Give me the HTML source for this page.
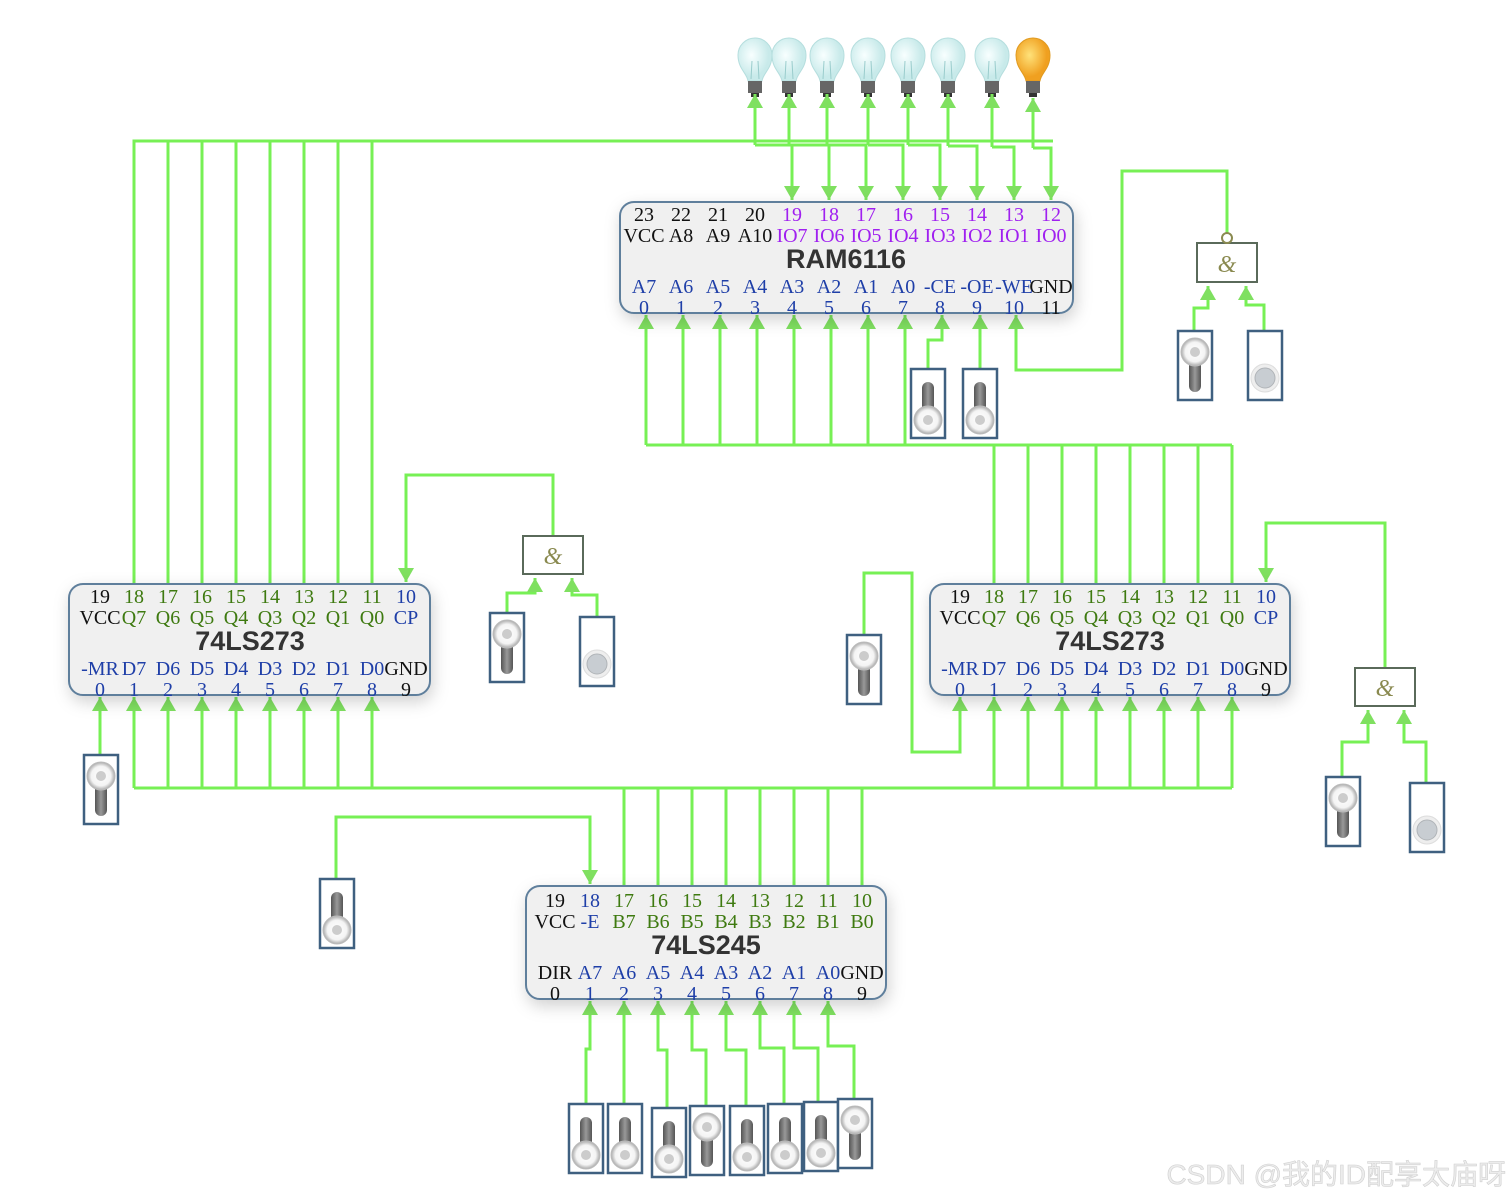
<!DOCTYPE html>
<html><head><meta charset="utf-8"><style>
html,body{margin:0;padding:0;background:#fff}
svg{display:block}
</style></head><body>
<svg width="1510" height="1200" viewBox="0 0 1510 1200" xmlns="http://www.w3.org/2000/svg">
<defs>
<marker id="a" markerUnits="userSpaceOnUse" markerWidth="18" markerHeight="18" refX="14" refY="8" orient="auto">
<path d="M0,0 L14,8 L0,16 z" fill="#7fe060"/>
</marker>
<filter id="sh" x="-10%" y="-20%" width="125%" height="150%">
<feDropShadow dx="2" dy="6" stdDeviation="8" flood-color="#000" flood-opacity="0.18"/>
</filter>
<linearGradient id="stem" x1="0" x2="1"><stop offset="0" stop-color="#555"/><stop offset="0.5" stop-color="#999"/><stop offset="1" stop-color="#555"/></linearGradient>
<radialGradient id="knob"><stop offset="0" stop-color="#fff"/><stop offset="0.7" stop-color="#f4f4f4"/><stop offset="1" stop-color="#aaa"/></radialGradient>
<radialGradient id="glass" cx="0.4" cy="0.4"><stop offset="0" stop-color="#f8ffff"/><stop offset="1" stop-color="#c8eaea"/></radialGradient>
<radialGradient id="glassOn" cx="0.4" cy="0.4"><stop offset="0" stop-color="#ffe27a"/><stop offset="1" stop-color="#f0a020"/></radialGradient>
<g id="sd"><rect x="1" y="1" width="34" height="69" fill="#fff" stroke="#3f6080" stroke-width="2.5"/><rect x="12" y="14" width="12" height="34" rx="6" fill="url(#stem)"/><circle cx="18" cy="52" r="14" fill="url(#knob)" stroke="#bbb"/><circle cx="18" cy="52" r="5" fill="#ccc"/></g>
<g id="su"><rect x="1" y="1" width="34" height="69" fill="#fff" stroke="#3f6080" stroke-width="2.5"/><rect x="12" y="26" width="12" height="36" rx="6" fill="url(#stem)"/><circle cx="18" cy="22" r="14" fill="url(#knob)" stroke="#bbb"/><circle cx="18" cy="22" r="5" fill="#ccc"/></g>
<g id="bt"><rect x="1" y="1" width="34" height="69" fill="#fff" stroke="#3f6080" stroke-width="2.5"/><circle cx="18" cy="48" r="14" fill="#eee" stroke="#ddd"/><circle cx="18" cy="48" r="10" fill="#c8cdd2" stroke="#b0b4b8"/></g>
<g id="bulb"><path d="M-7,76 C-8,68 -17,64 -17,50 A17,17 0 1 1 17,50 C17,64 8,68 7,76 Z" fill="url(#glass)" stroke="#b5dede"/><path d="M-4,74 L-3,56 M4,74 L3,56" stroke="#9cc" stroke-width="1" fill="none"/><rect x="-7" y="76" width="14" height="12" fill="#666"/><rect x="-4" y="88" width="8" height="4" fill="#333"/></g>
<g id="bulbon"><path d="M-7,76 C-8,68 -17,64 -17,50 A17,17 0 1 1 17,50 C17,64 8,68 7,76 Z" fill="url(#glassOn)" stroke="#e09a20"/><rect x="-7" y="76" width="14" height="12" fill="#666"/><rect x="-4" y="88" width="8" height="4" fill="#333"/></g>
</defs>

<use href="#bulb" x="755" y="5"/><use href="#bulb" x="789" y="5"/><use href="#bulb" x="827" y="5"/><use href="#bulb" x="868" y="5"/><use href="#bulb" x="908" y="5"/><use href="#bulb" x="948" y="5"/><use href="#bulb" x="992" y="5"/><use href="#bulbon" x="1033" y="5"/>

<g stroke="#77f055" stroke-width="3" fill="none">
<path d="M134,584 V141 H1053"/>
<path d="M168,584 V141 M202,584 V141 M236,584 V141 M270,584 V141 M304,584 V141 M338,584 V141 M372,584 V141"/>
<path d="M755,145 V94" marker-end="url(#a)"/><path d="M755,145 H792 V200" marker-end="url(#a)"/>
<path d="M789,145 V94" marker-end="url(#a)"/><path d="M789,145 H829 V200" marker-end="url(#a)"/>
<path d="M827,145 V94" marker-end="url(#a)"/><path d="M827,145 H866 V200" marker-end="url(#a)"/>
<path d="M868,145 V94" marker-end="url(#a)"/><path d="M868,145 H903 V200" marker-end="url(#a)"/>
<path d="M908,145 V94" marker-end="url(#a)"/><path d="M908,145 H940 V200" marker-end="url(#a)"/>
<path d="M948,146 V94" marker-end="url(#a)"/><path d="M948,146 H977 V200" marker-end="url(#a)"/>
<path d="M992,147 V94" marker-end="url(#a)"/><path d="M992,147 H1014 V200" marker-end="url(#a)"/>
<path d="M1033,148 V98" marker-end="url(#a)"/><path d="M1033,148 H1051 V200" marker-end="url(#a)"/>
<path d="M646,445 H1232"/>
<path d="M646,445 V315" marker-end="url(#a)"/><path d="M683,445 V315" marker-end="url(#a)"/><path d="M720,445 V315" marker-end="url(#a)"/><path d="M757,445 V315" marker-end="url(#a)"/><path d="M794,445 V315" marker-end="url(#a)"/><path d="M831,445 V315" marker-end="url(#a)"/><path d="M868,445 V315" marker-end="url(#a)"/><path d="M905,445 V315" marker-end="url(#a)"/>
<path d="M994,584 V445 M1028,584 V445 M1062,584 V445 M1096,584 V445 M1130,584 V445 M1164,584 V445 M1198,584 V445 M1232,584 V445"/>
<path d="M928,368 V340 H942 V315" marker-end="url(#a)"/>
<path d="M980,368 V315" marker-end="url(#a)"/>
<path d="M1227,236 V171 H1122 V370 H1016 V315" marker-end="url(#a)"/>
<path d="M1194,330 V308 H1208 V286" marker-end="url(#a)"/>
<path d="M1264,330 V305 H1246 V286" marker-end="url(#a)"/>
<path d="M553,536 V475 H406 V582" marker-end="url(#a)"/>
<path d="M507,612 V593 H535 V578" marker-end="url(#a)"/>
<path d="M597,616 V595 H572 V578" marker-end="url(#a)"/>
<path d="M1385,668 V523 H1266 V582" marker-end="url(#a)"/>
<path d="M1342,776 V742 H1368 V710" marker-end="url(#a)"/>
<path d="M1426,782 V742 H1404 V710" marker-end="url(#a)"/>
<path d="M100,754 V697" marker-end="url(#a)"/>
<path d="M864,634 V573 H912 V752 H960 V697" marker-end="url(#a)"/>
<path d="M134,788 H1232"/>
<path d="M134,788 V697" marker-end="url(#a)"/><path d="M168,788 V697" marker-end="url(#a)"/><path d="M202,788 V697" marker-end="url(#a)"/><path d="M236,788 V697" marker-end="url(#a)"/><path d="M270,788 V697" marker-end="url(#a)"/><path d="M304,788 V697" marker-end="url(#a)"/><path d="M338,788 V697" marker-end="url(#a)"/><path d="M372,788 V697" marker-end="url(#a)"/>
<path d="M994,788 V697" marker-end="url(#a)"/><path d="M1028,788 V697" marker-end="url(#a)"/><path d="M1062,788 V697" marker-end="url(#a)"/><path d="M1096,788 V697" marker-end="url(#a)"/><path d="M1130,788 V697" marker-end="url(#a)"/><path d="M1164,788 V697" marker-end="url(#a)"/><path d="M1198,788 V697" marker-end="url(#a)"/><path d="M1232,788 V697" marker-end="url(#a)"/>
<path d="M624,788 V886 M658,788 V886 M692,788 V886 M726,788 V886 M760,788 V886 M794,788 V886 M828,788 V886 M862,788 V886"/>
<path d="M336,878 V817 H590 V884" marker-end="url(#a)"/>
<path d="M586,1103 V1049 H590 V1001" marker-end="url(#a)"/>
<path d="M624,1103 V1001" marker-end="url(#a)"/>
<path d="M667,1107 V1050 H658 V1001" marker-end="url(#a)"/>
<path d="M706,1105 V1050 H692 V1001" marker-end="url(#a)"/>
<path d="M746,1105 V1050 H726 V1001" marker-end="url(#a)"/>
<path d="M784,1103 V1048 H760 V1001" marker-end="url(#a)"/>
<path d="M818,1101 V1048 H794 V1001" marker-end="url(#a)"/>
<path d="M854,1098 V1046 H828 V1001" marker-end="url(#a)"/>
</g>

<g font-family="Liberation Serif, serif" font-size="24" font-style="italic" fill="#8a8a50" text-anchor="middle">
<rect x="1197" y="243" width="60" height="39" fill="#fff" stroke="#5a6a5a" stroke-width="2"/><circle cx="1227" cy="238" r="5" fill="#fff" stroke="#8a8a50" stroke-width="2"/><text x="1227" y="272">&amp;</text>
<rect x="523" y="536" width="60" height="38" fill="#fff" stroke="#5a6a5a" stroke-width="2"/><text x="553" y="564">&amp;</text>
<rect x="1355" y="668" width="60" height="38" fill="#fff" stroke="#5a6a5a" stroke-width="2"/><text x="1385" y="696">&amp;</text>
</g>

<use href="#sd" x="910" y="368"/><use href="#sd" x="962" y="368"/>
<use href="#su" x="1177" y="330"/><use href="#bt" x="1247" y="330"/>
<use href="#su" x="489" y="612"/><use href="#bt" x="579" y="616"/>
<use href="#su" x="846" y="634"/>
<use href="#su" x="1325" y="776"/><use href="#bt" x="1409" y="782"/>
<use href="#su" x="83" y="754"/>
<use href="#sd" x="319" y="878"/>
<use href="#sd" x="568" y="1103"/><use href="#sd" x="607" y="1103"/><use href="#sd" x="651" y="1107"/><use href="#su" x="689" y="1105"/><use href="#sd" x="729" y="1105"/><use href="#sd" x="767" y="1103"/><use href="#sd" x="803" y="1101"/><use href="#su" x="837" y="1098"/>

<rect x="620" y="202" width="453" height="111" rx="14" fill="#f0f0f0" stroke="#5f7f9c" stroke-width="2" filter="url(#sh)"/>
<rect x="69" y="584" width="361" height="111" rx="14" fill="#f0f0f0" stroke="#5f7f9c" stroke-width="2" filter="url(#sh)"/>
<rect x="930" y="584" width="360" height="111" rx="14" fill="#f0f0f0" stroke="#5f7f9c" stroke-width="2" filter="url(#sh)"/>
<rect x="526" y="886" width="360" height="113" rx="14" fill="#f0f0f0" stroke="#5f7f9c" stroke-width="2" filter="url(#sh)"/>

<g font-family="Liberation Sans, sans-serif" font-weight="bold" font-size="27" fill="#333" text-anchor="middle">
<text x="846" y="268">RAM6116</text>
<text x="250" y="650">74LS273</text>
<text x="1110" y="650">74LS273</text>
<text x="706" y="954">74LS245</text>
</g>

<g font-family="Liberation Serif, serif" font-size="20" text-anchor="middle">
<g fill="#111"><text x="644" y="221">23</text><text x="681" y="221">22</text><text x="718" y="221">21</text><text x="755" y="221">20</text>
<text x="644" y="242">VCC</text><text x="681" y="242">A8</text><text x="718" y="242">A9</text><text x="755" y="242">A10</text><text x="1051" y="293">GND</text><text x="1051" y="314">11</text></g>
<g fill="#a020f0"><text x="792" y="221">19</text><text x="829" y="221">18</text><text x="866" y="221">17</text><text x="903" y="221">16</text><text x="940" y="221">15</text><text x="977" y="221">14</text><text x="1014" y="221">13</text><text x="1051" y="221">12</text>
<text x="792" y="242">IO7</text><text x="829" y="242">IO6</text><text x="866" y="242">IO5</text><text x="903" y="242">IO4</text><text x="940" y="242">IO3</text><text x="977" y="242">IO2</text><text x="1014" y="242">IO1</text><text x="1051" y="242">IO0</text></g>
<g fill="#1f3fa8"><text x="644" y="293">A7</text><text x="681" y="293">A6</text><text x="718" y="293">A5</text><text x="755" y="293">A4</text><text x="792" y="293">A3</text><text x="829" y="293">A2</text><text x="866" y="293">A1</text><text x="903" y="293">A0</text><text x="940" y="293">-CE</text><text x="977" y="293">-OE</text><text x="1014" y="293">-WE</text>
<text x="644" y="314">0</text><text x="681" y="314">1</text><text x="718" y="314">2</text><text x="755" y="314">3</text><text x="792" y="314">4</text><text x="829" y="314">5</text><text x="866" y="314">6</text><text x="903" y="314">7</text><text x="940" y="314">8</text><text x="977" y="314">9</text><text x="1014" y="314">10</text></g>

<g fill="#111"><text x="100" y="603">19</text><text x="100" y="624">VCC</text><text x="406" y="675">GND</text><text x="406" y="696">9</text></g>
<g fill="#3e7a10"><text x="134" y="603">18</text><text x="168" y="603">17</text><text x="202" y="603">16</text><text x="236" y="603">15</text><text x="270" y="603">14</text><text x="304" y="603">13</text><text x="338" y="603">12</text><text x="372" y="603">11</text>
<text x="134" y="624">Q7</text><text x="168" y="624">Q6</text><text x="202" y="624">Q5</text><text x="236" y="624">Q4</text><text x="270" y="624">Q3</text><text x="304" y="624">Q2</text><text x="338" y="624">Q1</text><text x="372" y="624">Q0</text></g>
<g fill="#1f3fa8"><text x="406" y="603">10</text><text x="406" y="624">CP</text>
<text x="100" y="675">-MR</text><text x="134" y="675">D7</text><text x="168" y="675">D6</text><text x="202" y="675">D5</text><text x="236" y="675">D4</text><text x="270" y="675">D3</text><text x="304" y="675">D2</text><text x="338" y="675">D1</text><text x="372" y="675">D0</text>
<text x="100" y="696">0</text><text x="134" y="696">1</text><text x="168" y="696">2</text><text x="202" y="696">3</text><text x="236" y="696">4</text><text x="270" y="696">5</text><text x="304" y="696">6</text><text x="338" y="696">7</text><text x="372" y="696">8</text></g>

<g fill="#111"><text x="960" y="603">19</text><text x="960" y="624">VCC</text><text x="1266" y="675">GND</text><text x="1266" y="696">9</text></g>
<g fill="#3e7a10"><text x="994" y="603">18</text><text x="1028" y="603">17</text><text x="1062" y="603">16</text><text x="1096" y="603">15</text><text x="1130" y="603">14</text><text x="1164" y="603">13</text><text x="1198" y="603">12</text><text x="1232" y="603">11</text>
<text x="994" y="624">Q7</text><text x="1028" y="624">Q6</text><text x="1062" y="624">Q5</text><text x="1096" y="624">Q4</text><text x="1130" y="624">Q3</text><text x="1164" y="624">Q2</text><text x="1198" y="624">Q1</text><text x="1232" y="624">Q0</text></g>
<g fill="#1f3fa8"><text x="1266" y="603">10</text><text x="1266" y="624">CP</text>
<text x="960" y="675">-MR</text><text x="994" y="675">D7</text><text x="1028" y="675">D6</text><text x="1062" y="675">D5</text><text x="1096" y="675">D4</text><text x="1130" y="675">D3</text><text x="1164" y="675">D2</text><text x="1198" y="675">D1</text><text x="1232" y="675">D0</text>
<text x="960" y="696">0</text><text x="994" y="696">1</text><text x="1028" y="696">2</text><text x="1062" y="696">3</text><text x="1096" y="696">4</text><text x="1130" y="696">5</text><text x="1164" y="696">6</text><text x="1198" y="696">7</text><text x="1232" y="696">8</text></g>

<g fill="#111"><text x="555" y="907">19</text><text x="555" y="928">VCC</text><text x="555" y="979">DIR</text><text x="555" y="1000">0</text><text x="862" y="979">GND</text><text x="862" y="1000">9</text></g>
<g fill="#1f3fa8"><text x="590" y="907">18</text><text x="590" y="928">-E</text>
<text x="590" y="979">A7</text><text x="624" y="979">A6</text><text x="658" y="979">A5</text><text x="692" y="979">A4</text><text x="726" y="979">A3</text><text x="760" y="979">A2</text><text x="794" y="979">A1</text><text x="828" y="979">A0</text>
<text x="590" y="1000">1</text><text x="624" y="1000">2</text><text x="658" y="1000">3</text><text x="692" y="1000">4</text><text x="726" y="1000">5</text><text x="760" y="1000">6</text><text x="794" y="1000">7</text><text x="828" y="1000">8</text></g>
<g fill="#3e7a10"><text x="624" y="907">17</text><text x="658" y="907">16</text><text x="692" y="907">15</text><text x="726" y="907">14</text><text x="760" y="907">13</text><text x="794" y="907">12</text><text x="828" y="907">11</text><text x="862" y="907">10</text>
<text x="624" y="928">B7</text><text x="658" y="928">B6</text><text x="692" y="928">B5</text><text x="726" y="928">B4</text><text x="760" y="928">B3</text><text x="794" y="928">B2</text><text x="828" y="928">B1</text><text x="862" y="928">B0</text></g>
</g>

<text x="1506" y="1184" text-anchor="end" font-family="Liberation Sans, 'Noto Sans CJK SC', sans-serif" font-size="28" fill="#ececec" stroke="#d0d0d0" stroke-width="0.6">CSDN @我的ID配享太庙呀</text>
</svg>
</body></html>
